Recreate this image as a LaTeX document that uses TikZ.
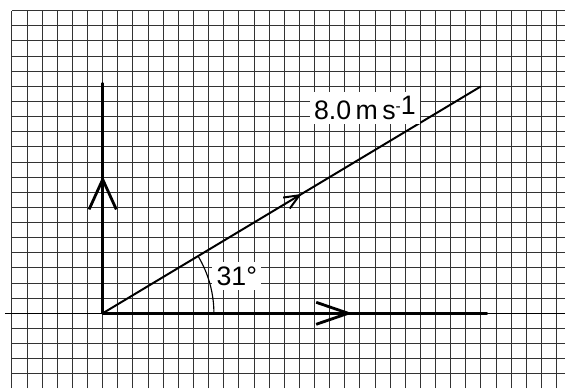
\documentclass[tikz,border=0pt]{standalone}
\usepackage{fontspec}
\setmainfont{Liberation Sans}
\usetikzlibrary{arrows.meta,decorations.markings}

\tikzset{
    gridline/.style={black!80,line width=0.7pt},
    vector/.style={line width=2.0pt,line cap=round},
    midarrow/.style 2 args={postaction={decorate},
        decoration={markings,mark=at position #1 with {\arrow{#2}}}},
    tag/.style={fill=white,inner sep=3pt,font=\fontsize{19}{21}\selectfont}
}

\begin{document}
\begin{tikzpicture}[x=0.37825cm,y=0.37825cm]
        \def\r{7.35}
        \def\ang{31}

        \useasboundingbox (-6.788,-4.937) rectangle (30.555,20.707);
        \clip (-6.788,-4.937) rectangle (30.555,20.707);

        \draw[gridline,step={(1,1)}] (-6,-4.937) grid (30.555,20);

        \coordinate (O) at (0,0);
        \coordinate (V) at (0,15.2);
        \coordinate (H) at (25.4,0);
        \coordinate (D) at (25,15);
        \coordinate (axisL) at (-6.46,0);
        \coordinate (axisR) at (30.555,0);

        \draw[line width=1pt] (axisL) -- (axisR);

        \draw[vector,midarrow={0.597}{Straight Barb[length=0.75cm,width=0.68cm]}]
            (O) -- (V);
        \draw[vector,midarrow={0.65}{Straight Barb[length=0.8cm,width=0.55cm]}]
            (O) -- (H);
        \draw[line width=1.4pt,midarrow={0.526}{Straight Barb[length=0.38cm,width=0.32cm]}]
            (O) -- (D);

        \draw[line width=0.8pt] (O) ++(0:\r) arc[start angle=0,end angle=\ang,radius=\r];

        \node[tag] (angle) at (8.86,2.47) {31°};
        \node[tag] (speed) at (17.33,13.57)
            {8.0\,m\,s\raisebox{0.55ex}{\fontsize{11}{12}\selectfont-}\raisebox{0.3ex}{1}};

    \end{tikzpicture}
\end{document}
